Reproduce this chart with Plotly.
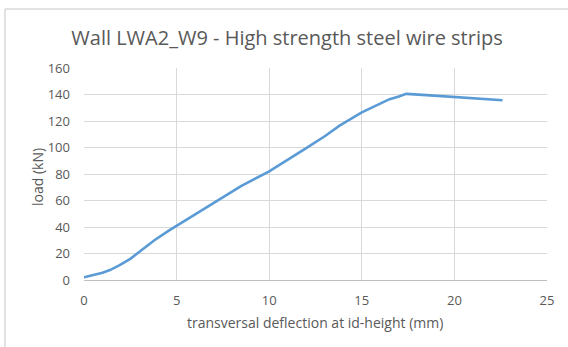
import plotly.graph_objects as go

deflection = [0.0, 0.5, 1.0, 1.4, 1.9, 2.5, 3.1, 3.8, 4.6, 5.0, 6.2, 7.3, 8.5, 10.0, 11.0, 12.0, 13.0, 13.8, 15.0, 15.5, 16.0, 16.5, 17.0, 17.4, 18.5, 20.0, 21.5, 22.6]
load = [2.0, 3.5, 5.5, 7.5, 11.0, 16.0, 22.5, 30.0, 37.5, 41.0, 51.5, 61.0, 71.0, 82.0, 90.5, 99.5, 108.5, 116.5, 126.5, 130.0, 133.5, 136.5, 138.5, 140.5, 139.5, 138.0, 136.8, 135.7]

x_ticks = [0, 5, 10, 15, 20, 25]
y_ticks = [0, 20, 40, 60, 80, 100, 120, 140, 160]

title_text = "Wall LWA2_W9 - High strength steel wire strips"
x_title = "transversal deflection at id-height (mm)"
y_title = "load (kN)"

txt = "#595959"
grid = "#D9D9D9"
font_family = "Open Sans"

W, H = 568, 347
L, R, T, B = 84, 21, 68, 67
pw, ph = W - L - R, H - T - B

def px_to_paper_x(px):
    return (px - L) / pw

def px_to_paper_y(py):
    return (H - B - py) / ph

fig = go.Figure()
fig.add_trace(go.Scatter(x=deflection, y=load, mode="lines",
                         line=dict(color="#5B9BD5", width=2.6),
                         hoverinfo="skip", showlegend=False))

fig.update_layout(
    width=W, height=H,
    margin=dict(l=L, r=R, t=T, b=B, autoexpand=False),
    paper_bgcolor="white", plot_bgcolor="white",
    font=dict(family=font_family, color=txt, size=13),
    title=dict(text=title_text,
               x=287 / W, xanchor="center",
               y=1 - 38 / H, yanchor="middle",
               font=dict(size=20, color=txt, family=font_family)),
    xaxis=dict(range=[0, 25], tickvals=x_ticks, showgrid=True, gridcolor=grid,
               gridwidth=1, zeroline=False, showline=True, linecolor="#BFBFBF",
               ticks="", ticklabelstandoff=8, automargin=False,
               tickfont=dict(size=13, color=txt)),
    yaxis=dict(range=[0, 160], tickvals=y_ticks, showgrid=True, gridcolor=grid,
               gridwidth=1, zeroline=False, showline=False, ticks="",
               ticklabelstandoff=13, automargin=False,
               tickfont=dict(size=13, color=txt)),
    annotations=[
        dict(text=x_title, xref="paper", yref="paper",
             x=px_to_paper_x(315), y=px_to_paper_y(322),
             xanchor="center", yanchor="middle", showarrow=False,
             font=dict(size=14, color=txt)),
        dict(text=y_title, xref="paper", yref="paper",
             x=px_to_paper_x(37), y=px_to_paper_y(177),
             xanchor="center", yanchor="middle", showarrow=False, textangle=-90,
             font=dict(size=14, color=txt)),
    ],
    shapes=[
        dict(type="line", xref="paper", yref="paper",
             x0=px_to_paper_x(5), x1=px_to_paper_x(5),
             y0=px_to_paper_y(347), y1=px_to_paper_y(9),
             line=dict(color="#D9D9D9", width=1.5)),
        dict(type="line", xref="paper", yref="paper",
             x0=px_to_paper_x(5), x1=px_to_paper_x(568),
             y0=px_to_paper_y(9), y1=px_to_paper_y(9),
             line=dict(color="#D9D9D9", width=1.5)),
    ],
)

fig.write_html("out.html",
               config={"displayModeBar": False},
               post_script="document.body.style.margin='0';document.body.style.overflow='hidden';")
